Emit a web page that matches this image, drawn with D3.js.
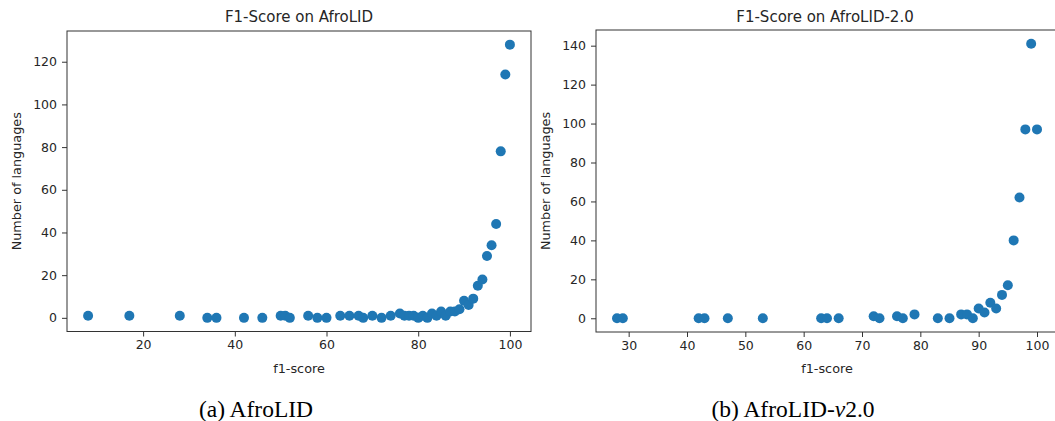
<!DOCTYPE html>
<html>
<head>
<meta charset="utf-8">
<script src="https://cdn.jsdelivr.net/npm/d3@7"></script>
<style>
  body { margin: 0; background: #fff; }
  text { fill: #262626; }
</style>
</head>
<body>
<div id="chart_wrapper"></div>
<script>
// f1-score -> number of languages
var afroF1 = [8, 17, 28, 34, 36, 42, 46, 50, 51, 52, 56, 58, 60, 63, 65, 67, 68, 70, 72, 74,
              76, 77, 78, 79, 80, 81, 82, 83, 84, 85, 86, 87, 88, 89, 90, 91, 92, 93, 94, 95,
              96, 97, 98, 99, 100];
var afroCount = [1, 1, 1, 0, 0, 0, 0, 1, 1, 0, 1, 0, 0, 1, 1, 1, 0, 1, 0, 1,
                 2, 1, 1, 1, 0, 1, 0, 2, 1, 3, 1, 3, 3, 4, 8, 6, 9, 15, 18, 29,
                 34, 44, 78, 114, 128];

var afro2F1 = [28, 29, 42, 43, 47, 53, 63, 64, 66, 72, 73, 76, 77, 79, 83, 85, 87, 88, 89, 90,
               91, 92, 93, 94, 95, 96, 97, 98, 99, 100];
var afro2Count = [0, 0, 0, 0, 0, 0, 0, 0, 0, 1, 0, 1, 0, 2, 0, 0, 2, 2, 0, 5,
                  3, 8, 5, 12, 17, 40, 62, 97, 141, 97];

var afroXTicks = [20, 40, 60, 80, 100];
var afroYTicks = [0, 20, 40, 60, 80, 100, 120];
var afro2XTicks = [30, 40, 50, 60, 70, 80, 90, 100];
var afro2YTicks = [0, 20, 40, 60, 80, 100, 120, 140];

var panels = [
  { title: "F1-Score on AfroLID", x: afroF1, y: afroCount, xticks: afroXTicks, yticks: afroYTicks,
    left: 67, right: 531, top: 31, bottom: 331.5, ylabelX: 16, caption: ["(a) AfroLID"], capX: 256 },
  { title: "F1-Score on AfroLID-2.0", x: afro2F1, y: afro2Count, xticks: afro2XTicks, yticks: afro2YTicks,
    left: 596, right: 1058, top: 30, bottom: 332, ylabelX: 545, caption: ["(b) AfroLID-", "v", "2.0"], capX: 793 }
];

var svg = d3.select("#chart_wrapper").append("svg")
    .attr("width", 1055).attr("height", 421);

// matplotlib style 5% padding around the data
function padded(vals) {
  var ext = d3.extent(vals), m = (ext[1] - ext[0]) * 0.05;
  return [ext[0] - m, ext[1] + m];
}

panels.forEach(function(p) {
  var x = d3.scaleLinear().domain(padded(p.x)).range([p.left, p.right]);
  var y = d3.scaleLinear().domain(padded(p.y)).range([p.bottom, p.top]);
  var g = svg.append("g");

  var pts = p.x.map(function(d, i) { return { f1: d, n: p.y[i] }; });
  g.append("g").selectAll("circle")
    .data(pts)
    .enter().append("circle")
      .attr("cx", function(d) { return x(d.f1); })
      .attr("cy", function(d) { return y(d.n); })
      .attr("r", 5)
      .attr("fill", "#1f77b4");

  var xAxis = g.append("g")
      .attr("transform", "translate(0," + p.bottom + ")")
      .call(d3.axisBottom(x).tickValues(p.xticks).tickSize(5).tickPadding(4).tickSizeOuter(0));
  var yAxis = g.append("g")
      .attr("transform", "translate(" + p.left + ",0)")
      .call(d3.axisLeft(y).tickValues(p.yticks).tickSize(5).tickPadding(5).tickSizeOuter(0));
  [xAxis, yAxis].forEach(function(a) {
    a.select(".domain").remove();
    a.selectAll("line").attr("stroke", "#333");
    a.selectAll("text").attr("font-family", "DejaVu Sans").attr("font-size", 12.5).attr("fill", "#262626");
  });

  g.append("rect")
      .attr("x", p.left).attr("y", p.top)
      .attr("width", p.right - p.left).attr("height", p.bottom - p.top)
      .attr("fill", "none").attr("stroke", "#333").attr("stroke-width", 1);

  g.append("text")
      .attr("x", Math.min((p.left + p.right) / 2, 825))
      .attr("y", 22)
      .attr("text-anchor", "middle")
      .attr("font-family", "DejaVu Sans").attr("font-size", 15)
      .text(p.title);

  g.append("text")
      .attr("x", (p.left + p.right) / 2)
      .attr("y", 373)
      .attr("text-anchor", "middle")
      .attr("font-family", "DejaVu Sans").attr("font-size", 12.8)
      .text("f1-score");

  g.append("text")
      .attr("transform", "translate(" + (p.ylabelX + 4.5) + "," + ((p.top + p.bottom) / 2) + ") rotate(-90)")
      .attr("text-anchor", "middle")
      .attr("font-family", "DejaVu Sans").attr("font-size", 12.8)
      .text("Number of languages");

  var cap = g.append("text")
      .attr("x", p.capX).attr("y", 417)
      .attr("text-anchor", "middle")
      .attr("font-family", "Liberation Serif").attr("font-size", 23.5)
      .style("fill", "#000");
  p.caption.forEach(function(s, i) {
    cap.append("tspan").attr("font-style", i == 1 ? "italic" : "normal").text(s);
  });
});
</script>
</body>
</html>
